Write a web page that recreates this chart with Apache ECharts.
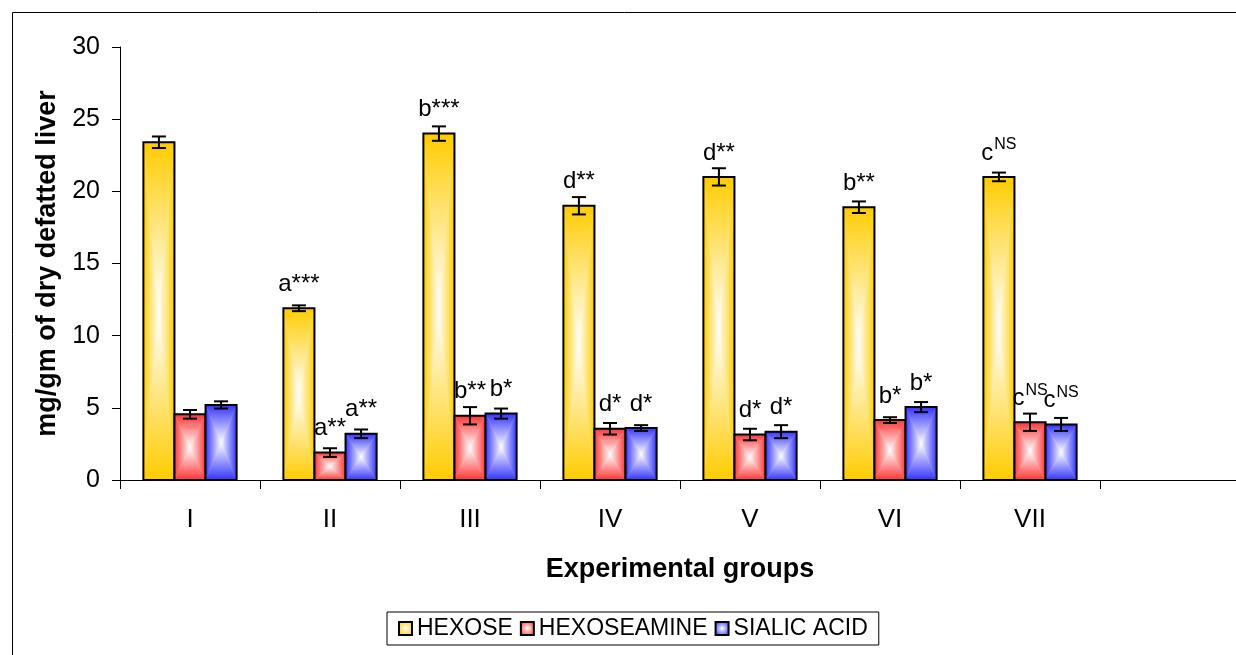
<!DOCTYPE html>
<html>
<head>
<meta charset="utf-8">
<script src="https://cdn.jsdelivr.net/npm/echarts@6/dist/echarts.min.js"></script>
<style>
html,body{margin:0;padding:0;background:#fff;}
#main{width:1236px;height:655px;}
</style>
</head>
<body>
<div id="main"></div>
<script>
const categories = ['I', 'II', 'III', 'IV', 'V', 'VI', 'VII', ''];
const yTicks = [0, 5, 10, 15, 20, 25, 30];
const seriesNames = ['HEXOSE', 'HEXOSEAMINE', 'SIALIC ACID'];

const hexose = [23.4, 11.9, 24.0, 19.0, 21.0, 18.9, 21.0];
const hexoseErr = [0.4, 0.2, 0.5, 0.6, 0.6, 0.4, 0.3];
const hexoseLabels = ['', 'a***', 'b***', 'd**', 'd**', 'b**', 'c^NS'];

const hexoseamine = [4.55, 1.9, 4.45, 3.55, 3.15, 4.15, 4.0];
const hexoseamineErr = [0.3, 0.3, 0.6, 0.4, 0.4, 0.2, 0.6];
const hexoseamineLabels = ['', 'a**', 'b**', 'd*', 'd*', 'b*', 'c^NS'];

const sialic = [5.2, 3.2, 4.6, 3.6, 3.35, 5.05, 3.85];
const sialicErr = [0.25, 0.3, 0.35, 0.2, 0.45, 0.35, 0.45];
const sialicLabels = ['', 'a**', 'b*', 'd*', 'd*', 'b*', 'c^NS'];

const colors = ['#FFCC00', '#FF3333', '#3333FF'];
const FONT = '"Liberation Sans", Arial, sans-serif';

function lin(x0, y0, x1, y1, c0, c1) {
  return {type: 'linear', x: x0, y: y0, x2: x1, y2: y1, global: false,
    colorStops: [{offset: 0, color: c0}, {offset: 1, color: c1}]};
}

function labelText(s) {
  if (!s) return '';
  const parts = s.split('^');
  if (parts.length > 1) return '{m|' + parts[0] + '}{s|' + parts[1] + '}';
  return '{m|' + s + '}';
}

function makeRender(k, color, labels) {
  return function (params, api) {
    const ci = api.value(0), v = api.value(1), e = api.value(2);
    const base = api.coord([ci, 0]);
    const topP = api.coord([ci, v]);
    const band = api.size([1, 0])[0];
    const bw = band * 0.222;
    const x = base[0] - 1.5 * bw + k * bw;
    const y = topP[1];
    const h = base[1] - topP[1];
    const cx = x + bw / 2, cy = y + h / 2;
    const eTop = api.coord([ci, v + e])[1];
    const eBot = api.coord([ci, v - e])[1];
    const cap = 7;
    const tri = (pts, g) => ({type: 'polygon', shape: {points: pts}, style: {fill: g, stroke: g, lineWidth: 0.6}});
    const children = [
      tri([[x, y], [x + bw, y], [cx, cy]], lin(0, 0, 0, 1, color, '#ffffff')),
      tri([[x, y + h], [x + bw, y + h], [cx, cy]], lin(0, 0, 0, 1, '#ffffff', color)),
      tri([[x, y], [x, y + h], [cx, cy]], lin(0, 0, 1, 0, color, '#ffffff')),
      tri([[x + bw, y], [x + bw, y + h], [cx, cy]], lin(0, 0, 1, 0, '#ffffff', color)),
      {type: 'rect', shape: {x: x, y: y, width: bw, height: h}, style: {fill: 'none', stroke: '#000', lineWidth: 2}},
      {type: 'line', shape: {x1: cx, y1: eTop, x2: cx, y2: eBot}, style: {stroke: '#000', lineWidth: 2}},
      {type: 'line', shape: {x1: cx - cap, y1: eTop, x2: cx + cap, y2: eTop}, style: {stroke: '#000', lineWidth: 2}},
      {type: 'line', shape: {x1: cx - cap, y1: eBot, x2: cx + cap, y2: eBot}, style: {stroke: '#000', lineWidth: 2}}
    ];
    const lt = labels[params.dataIndex];
    if (lt) {
      children.push({
        type: 'text',
        style: {
          text: labelText(lt), x: cx, y: y - 12, align: 'center', verticalAlign: 'bottom',
          fill: '#000', fontFamily: FONT, fontSize: 24,
          rich: {
            m: {fontSize: 24, fontFamily: FONT, fill: '#000', lineHeight: 28, verticalAlign: 'bottom'},
            s: {fontSize: 16, fontFamily: FONT, fill: '#000', lineHeight: 28, verticalAlign: 'top', padding: [0, 0, 0, 1]}
          }
        }
      });
    }
    return {type: 'group', children: children};
  };
}

function seriesData(vals, errs) {
  return vals.map((v, i) => [i, v, errs[i]]);
}

function legendIcon(color) {
  return {
    type: 'radial', x: 0.5, y: 0.5, r: 0.6,
    colorStops: [{offset: 0, color: '#ffffff'}, {offset: 1, color: color}]
  };
}

const chart = echarts.init(document.getElementById('main'));
chart.setOption({
  animation: false,
  backgroundColor: '#fff',
  graphic: [{
    type: 'rect', left: 10, top: 10, shape: {width: 1300, height: 700},
    style: {fill: 'none', stroke: '#000', lineWidth: 1}, silent: true
  }],
  grid: {left: 120, top: 47, width: 1120, bottom: 175, outerBoundsMode: 'none', containLabel: false},
  legend: {
    left: 387, top: 612,
    padding: [5, 11, 5, 11],
    itemWidth: 13, itemHeight: 13, itemGap: 7,
    borderColor: '#000', borderWidth: 1,
    selectedMode: false,
    textStyle: {fontSize: 23, fontFamily: FONT, color: '#000', padding: [0, 0, 0, 0]},
    data: seriesNames.map((n, i) => ({
      name: n, icon: 'rect',
      itemStyle: {color: legendIcon(colors[i]), borderColor: '#000', borderWidth: 2}
    }))
  },
  xAxis: {
    type: 'category', data: categories,
    name: 'Experimental groups', nameLocation: 'middle', nameGap: 76,
    nameTextStyle: {fontSize: 27, fontWeight: 'bold', fontFamily: FONT, color: '#000'},
    axisLine: {lineStyle: {color: '#000', width: 1}},
    axisTick: {show: true, length: 9, lineStyle: {color: '#000'}},
    axisLabel: {fontSize: 26, fontFamily: FONT, color: '#000', margin: 27},
    splitLine: {show: false}
  },
  yAxis: {
    type: 'value', min: yTicks[0], max: yTicks[yTicks.length - 1], interval: 5,
    name: 'mg/gm of dry defatted liver', nameLocation: 'middle', nameGap: 57,
    nameTextStyle: {fontSize: 27, fontWeight: 'bold', fontFamily: FONT, color: '#000'},
    axisLine: {show: true, lineStyle: {color: '#000', width: 1}},
    axisTick: {show: true, length: 8, lineStyle: {color: '#000'}},
    axisLabel: {fontSize: 25, fontFamily: FONT, color: '#000', margin: 20},
    splitLine: {show: false}
  },
  series: [
    {name: seriesNames[0], type: 'custom', renderItem: makeRender(0, colors[0], hexoseLabels),
     itemStyle: {color: colors[0]}, data: seriesData(hexose, hexoseErr), encode: {x: 0, y: 1}},
    {name: seriesNames[1], type: 'custom', renderItem: makeRender(1, colors[1], hexoseamineLabels),
     itemStyle: {color: colors[1]}, data: seriesData(hexoseamine, hexoseamineErr), encode: {x: 0, y: 1}},
    {name: seriesNames[2], type: 'custom', renderItem: makeRender(2, colors[2], sialicLabels),
     itemStyle: {color: colors[2]}, data: seriesData(sialic, sialicErr), encode: {x: 0, y: 1}}
  ]
});
</script>
</body>
</html>
